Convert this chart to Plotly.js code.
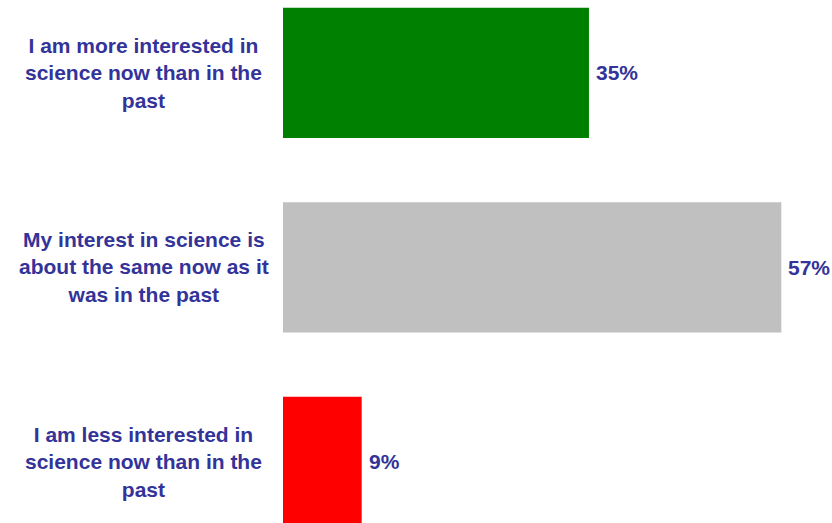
<!DOCTYPE html>
<html>
<head>
<meta charset="utf-8">
<script src="https://cdn.plot.ly/plotly-3.0.1.min.js"></script>
<style>html,body{margin:0;padding:0;background:#fff;}#chart{width:832px;height:523px;}</style>
</head>
<body>
<div id="chart"></div>
<script>
const categories = [
  "I am more interested in<br>science now than in the<br>past",
  "My interest in science is<br>about the same now as it<br>was in the past",
  "I am less interested in<br>science now than in the<br>past"
];
const values = [35, 57, 9];
const valueLabels = ["35%", "57%", "9%"];
const barColors = ["#008000", "#C0C0C0", "#FF0000"];
const textColor = "#333399";
const fontFamily = "Liberation Sans, Arial, sans-serif";

const yIdx = categories.map((c, i) => i);

const trace = {
  type: "bar",
  orientation: "h",
  x: values,
  y: yIdx,
  width: 0.67,
  marker: { color: barColors },
  hoverinfo: "none"
};

const labelAnnotations = categories.map((c, i) => ({
  xref: "paper", yref: "y",
  x: -0.2532, y: i,
  xanchor: "center", yanchor: "middle",
  text: "<b>" + c + "</b>",
  showarrow: false,
  align: "center",
  font: { family: fontFamily, size: 21, color: textColor }
}));

const valueAnnotations = values.map((v, i) => ({
  xref: "x", yref: "y",
  x: v, y: i,
  xanchor: "left", yanchor: "middle",
  xshift: 5,
  text: "<b>" + valueLabels[i] + "</b>",
  showarrow: false,
  font: { family: fontFamily, size: 21, color: textColor }
}));

const layout = {
  width: 832, height: 523,
  margin: { l: 283, r: 0, t: 0, b: 0, pad: 0 },
  paper_bgcolor: "#ffffff",
  plot_bgcolor: "#ffffff",
  showlegend: false,
  xaxis: { range: [0, 62.8], visible: false, fixedrange: true },
  yaxis: { range: [2.314, -0.375], visible: false, fixedrange: true },
  annotations: labelAnnotations.concat(valueAnnotations)
};

Plotly.newPlot("chart", [trace], layout, { displayModeBar: false, staticPlot: true });
</script>
</body>
</html>
